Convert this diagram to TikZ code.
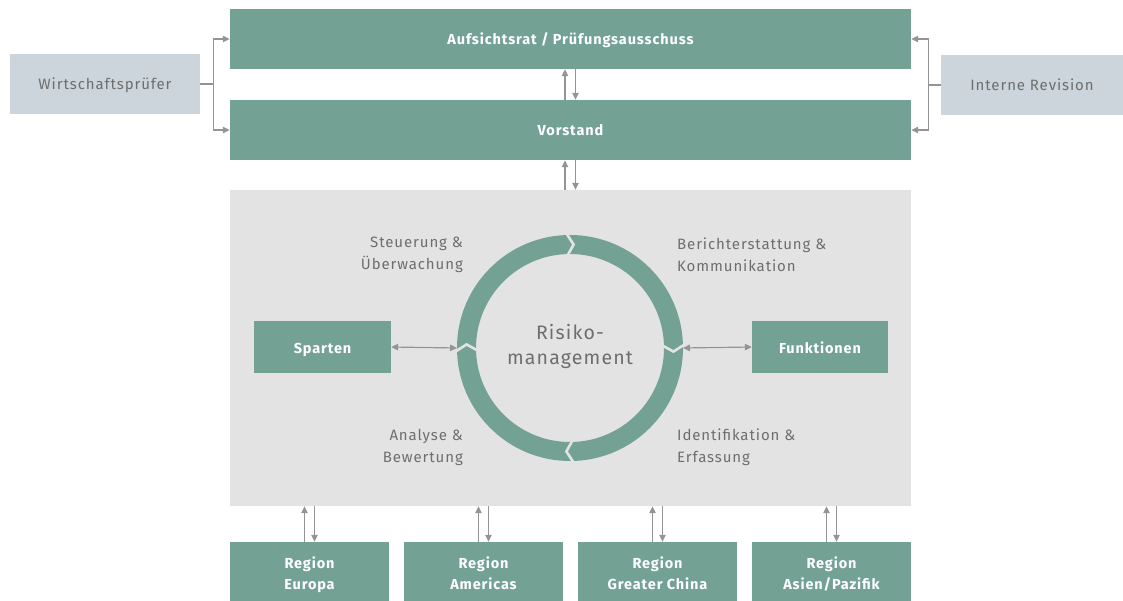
\documentclass[tikz,border=0pt]{standalone}
\usepackage{fontspec}
\setmainfont{Fira Sans}[LetterSpace=6]
\usetikzlibrary{arrows.meta, calc, positioning}
\definecolor{boxgreen}{HTML}{73A295}
\definecolor{boxblue}{HTML}{CCD5DB}
\definecolor{panel}{HTML}{E3E3E3}
\definecolor{txtgrey}{HTML}{6E6E6E}
\definecolor{lngrey}{HTML}{949494}

\tikzset{
  green box/.style={fill=boxgreen, text=white, inner sep=0pt, align=center,
    text height=15pt, text depth=3pt, font=\fontsize{14.5}{21}\selectfont\bfseries},
  region box/.style={green box, minimum width=159, minimum height=59,
    text height=38pt, text depth=3pt},
  side box/.style={fill=boxblue, text=txtgrey, inner sep=0pt, text height=15pt, text depth=3pt,
    minimum width=190, minimum height=60, font=\fontsize{15}{22}\selectfont},
  phase/.style={text=txtgrey, inner sep=0pt, font=\fontsize{15}{22}\selectfont},
  conn/.style={draw=lngrey, line width=1.2pt},
  arr/.style={conn, -{Triangle[length=7pt,width=6.5pt]}},
  darr/.style={conn, {Triangle[length=7pt,width=6.5pt]}-{Triangle[length=7pt,width=6.5pt]}},
  ring/.style={draw=boxgreen, line width=19pt},
  notch/.style={draw=panel, line width=2.6pt, line join=miter}
}

\begin{document}
\begin{tikzpicture}[x=1pt, y=-1pt]
\useasboundingbox (0,0) rectangle (1123,601);

\node[fill=panel, minimum width=681, minimum height=316, inner sep=0pt] (panel) at (570.5,348) {};

\node[green box, minimum width=681, minimum height=60] (auf) at (570.5,39) {Aufsichtsrat / Prüfungsausschuss};
\node[green box, minimum width=681, minimum height=60] (vor) at (570.5,130) {Vorstand};
\node[side box] (wp) at (105,84) {Wirtschaftsprüfer};
\node[side box, minimum width=182] (ir) at (1032,85) {Interne Revision};

\node[green box, minimum width=137, minimum height=52] (sp) at (322.5,347) {Sparten};
\node[green box, minimum width=136, minimum height=52] (fk) at (820,347) {Funktionen};

%
\foreach \name/\x/\txt in {eu/309.5/Europa, am/483.5/Americas, gc/657.5/Greater China, ap/831.5/{Asien/Pazifik}}
  \node[region box] (\name) at (\x,571.5) {Region\\\txt};

% risk cycle
\coordinate (ctr) at (570,348);
\draw[ring] (ctr) circle[radius=103.5];
\foreach \a in {-90,0,90,180}
  \draw[notch] ($(ctr)+(\a-2.5:117)$) -- ($(ctr)+(\a+2:103.5)$) -- ($(ctr)+(\a-2.5:90)$);
\node[text=txtgrey, align=center, font=\fontsize{19.5}{25}\selectfont] (rm) at (570,346) {Risiko-\\management};

\node[phase, anchor=east, align=right] (st) at (463,255) {Steuerung \&\\Überwachung};
\node[phase, anchor=west, align=left] (be) at (677,255) {Berichterstattung \&\\Kommunikation};
\node[phase, anchor=east, align=right] (an) at (463,447) {Analyse \&\\Bewertung};
\node[phase, anchor=west, align=left] (id) at (677,447) {Identifikation \&\\Erfassung};

% connectors
\draw[conn] (wp.east) -- ++(13,0) coordinate (wpj);
\draw[arr] (wpj) |- (auf.west);
\draw[arr] (wpj) |- (vor.west);
\draw[conn] (ir.west) -- ++(-12,0) coordinate (irj);
\draw[arr] (irj) |- (auf.east);
\draw[arr] (irj) |- (vor.east);

\draw[arr] ([xshift=-5.5pt]vor.north) -- ([xshift=-5.5pt]vor.north |- auf.south);
\draw[arr] ([xshift=5pt]auf.south) -- ([xshift=5pt]auf.south |- vor.north);
\draw[arr] ([xshift=-5.5pt]panel.north) -- ([xshift=-5.5pt]panel.north |- vor.south);
\draw[arr] ([xshift=5pt]vor.south) -- ([xshift=5pt]vor.south |- panel.north);

\draw[darr] (sp.east) -- ($(ctr)+(-113,0)$);
\draw[darr] (fk.west) -- ($(ctr)+(113,0)$);

\foreach \name in {eu,am,gc,ap} {
  \draw[arr] ([xshift=-5pt]\name.north) -- ([xshift=-5pt]\name.north |- panel.south);
  \draw[arr] ([xshift=5pt]\name.north |- panel.south) -- ([xshift=5pt]\name.north);
}
\end{tikzpicture}
\end{document}
